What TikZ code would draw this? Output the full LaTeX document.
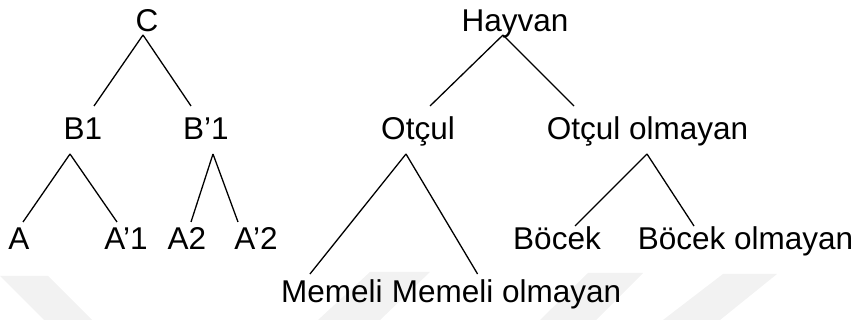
\documentclass[tikz,border=0pt]{standalone}
\usepackage{fontspec}
\setmainfont{Liberation Sans}
\begin{document}
\begin{tikzpicture}[x=1pt,y=1pt,
  lbl/.style={anchor=base,inner sep=0pt,font=\fontsize{31.5}{36}\selectfont},
  edge/.style={line width=1.3pt,black},
  wm/.style={fill=black!5,draw=none}]
\useasboundingbox (0,0) rectangle (861,320);
% faint background marks
\fill[wm] (0,44) -- (48,44) -- (92,0) -- (44,0) -- cycle;
\fill[wm] (318,0) -- (370,48) -- (430,48) -- (380,0) -- cycle;
\fill[wm] (540,0) -- (588,47) -- (643,47) -- (596,0) -- cycle;
\fill[wm] (663,0) -- (723,46) -- (777,46) -- (720,0) -- cycle;

% left tree
\node[lbl] (c)   at (147,288) {C};
\node[lbl] (b1)  at (83,180)  {B1};
\node[lbl] (b1p) at (206,180) {B’1};
\node[lbl] (a)   at (19,70)   {A};
\node[lbl] (a1p) at (126,70)  {A’1};
\node[lbl] (a2)  at (187,70)  {A2};
\node[lbl] (a2p) at (256,70)  {A’2};

\draw[edge] ([shift={(-4,-3)}]c.base) -- ([shift={(11,34)}]b1.base);
\draw[edge] ([shift={(-4,-3)}]c.base) -- ([shift={(-15,34)}]b1p.base);
\draw[edge] ([shift={(-13,-14)}]b1.base) -- ([shift={(4,28)}]a.base);
\draw[edge] ([shift={(-13,-14)}]b1.base) -- ([shift={(-9,28)}]a1p.base);
\draw[edge] ([shift={(7,-14)}]b1p.base) -- ([shift={(4,28)}]a2.base);
\draw[edge] ([shift={(7,-14)}]b1p.base) -- ([shift={(-18,28)}]a2p.base);

% right tree
\node[lbl] (hay) at (515,288)   {Hayvan};
\node[lbl] (ot)  at (418,180)   {Otçul};
\node[lbl] (oto) at (647.5,180) {Otçul olmayan};
\node[lbl] (bo)  at (557,70)    {Böcek};
\node[lbl] (boo) at (745.5,70)  {Böcek olmayan};
\node[lbl,anchor=base west] (me) at (281,17) {Memeli};
\node[lbl,anchor=base west] (meo) at ([xshift=8.8]me.base east) {Memeli olmayan};

\draw[edge] ([shift={(-12,-3)}]hay.base) -- ([shift={(12,34)}]ot.base);
\draw[edge] ([shift={(-12,-3)}]hay.base) -- ([shift={(-73.5,34)}]oto.base);
\draw[edge] ([shift={(-12,-14)}]ot.base) -- ([shift={(-22,29)}]me.base);
\draw[edge] ([shift={(-12,-14)}]ot.base) -- ([shift={(-29,29)}]meo.base);
\draw[edge] ([shift={(-0.5,-14)}]oto.base) -- ([shift={(18,24)}]bo.base);
\draw[edge] ([shift={(-0.5,-14)}]oto.base) -- ([shift={(-51.5,24)}]boo.base);
\end{tikzpicture}
\end{document}
